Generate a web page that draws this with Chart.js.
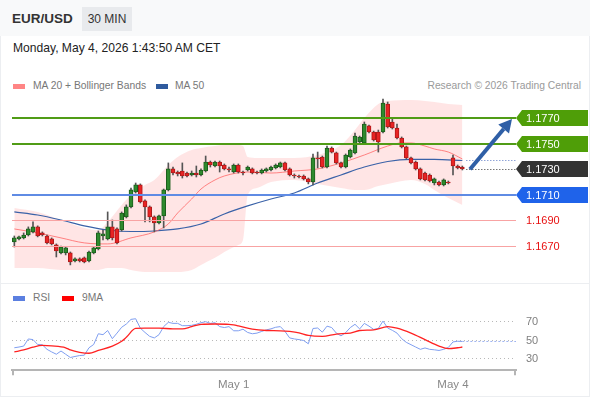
<!DOCTYPE html>
<html>
<head>
<meta charset="utf-8">
<script src="https://cdn.jsdelivr.net/npm/chart.js@4.4.1/dist/chart.umd.min.js"></script>
<style>
  body { margin: 0; background: #fff; font-family: "Liberation Sans", Arial, sans-serif; }
  #wrap { position: relative; width: 590px; height: 400px; overflow: hidden; }
  .abs { position: absolute; white-space: nowrap; }
  .leg { font-size: 10.3px; color: #777; }
</style>
</head>
<body>
<div id="wrap">
  <div class="abs" style="left:0;top:0;width:590px;height:36px;background:#f8f9fa"></div>
  <div class="abs" style="left:12px;top:11px;font-weight:bold;font-size:13.5px;color:#333">EUR/USD</div>
  <div class="abs" style="left:82px;top:7px;width:50px;height:24px;line-height:24px;background:#e8eaed;font-size:12px;color:#333;text-align:center">30 MIN</div>
  <div class="abs" style="left:13px;top:41px;font-size:12.1px;color:#222">Monday, May 4, 2026 1:43:50 AM CET</div>

  <div class="abs" style="left:13px;top:84px;width:12px;height:5px;background:#ff8585"></div>
  <div class="abs leg" style="left:33px;top:80px">MA 20 + Bollinger Bands</div>
  <div class="abs" style="left:156px;top:84px;width:12px;height:5px;background:#2f5b9e"></div>
  <div class="abs leg" style="left:175px;top:80px">MA 50</div>
  <div class="abs leg" style="right:9px;top:80px;color:#9a9a9a">Research © 2026 Trading Central</div>

  <canvas id="main" class="abs" style="left:0;top:90px" width="590" height="190"></canvas>

  <div class="abs" style="left:0;top:283px;width:590px;height:1px;background:#eceef1"></div>
  <div class="abs" style="left:13px;top:296px;width:12px;height:5px;background:#5b7fe0"></div>
  <div class="abs leg" style="left:33px;top:292px">RSI</div>
  <div class="abs" style="left:62px;top:296px;width:12px;height:5px;background:#f00"></div>
  <div class="abs leg" style="left:82px;top:292px">9MA</div>

  <canvas id="rsi" class="abs" style="left:0;top:290px" width="590" height="105"></canvas>

  <div class="abs" style="left:0;top:396px;width:590px;height:1px;background:#eceef1"></div>
  <div class="abs" style="left:0;top:36px;width:1px;height:361px;background:#eceef1"></div>
  <div class="abs" style="left:589px;top:36px;width:1px;height:361px;background:#eceef1"></div>
</div>

<script>
// 30 min candles, CET
var times = [
  'Apr 30 00:30','Apr 30 01:00','Apr 30 01:30','Apr 30 02:00','Apr 30 02:30','Apr 30 03:00','Apr 30 03:30','Apr 30 04:00',
  'Apr 30 04:30','Apr 30 05:00','Apr 30 05:30','Apr 30 06:00','Apr 30 06:30','Apr 30 07:00','Apr 30 07:30','Apr 30 08:00',
  'Apr 30 08:30','Apr 30 09:00','Apr 30 09:30','Apr 30 10:00','Apr 30 10:30','Apr 30 11:00','Apr 30 11:30','Apr 30 12:00',
  'Apr 30 12:30','Apr 30 13:00','Apr 30 13:30','Apr 30 14:00','Apr 30 14:30','Apr 30 15:00','Apr 30 15:30','Apr 30 16:00',
  'Apr 30 16:30','Apr 30 17:00','Apr 30 17:30','Apr 30 18:00','Apr 30 18:30','Apr 30 19:00','Apr 30 19:30','Apr 30 20:00',
  'Apr 30 20:30','Apr 30 21:00','Apr 30 21:30','Apr 30 22:00','Apr 30 22:30','Apr 30 23:00','Apr 30 23:30',
  'May 1 00:00','May 1 00:30','May 1 01:00','May 1 01:30','May 1 02:00','May 1 02:30','May 1 03:00','May 1 03:30',
  'May 1 04:00','May 1 04:30','May 1 05:00','May 1 05:30','May 1 06:00','May 1 06:30','May 1 07:00','May 1 07:30',
  'May 1 08:00','May 1 08:30','May 1 09:00','May 1 09:30','May 1 10:00','May 1 10:30','May 1 11:00','May 1 11:30',
  'May 1 12:00','May 1 12:30','May 1 13:00','May 1 13:30','May 1 14:00','May 1 14:30','May 1 15:00','May 1 15:30',
  'May 1 16:00','May 1 16:30','May 1 17:00','May 1 17:30','May 1 18:00','May 1 18:30','May 1 19:00','May 1 19:30',
  'May 1 20:00','May 1 20:30','May 1 21:00','May 1 21:30','May 1 22:00',
  'May 3 23:00','May 3 23:30',
  'May 4 00:00','May 4 00:30','May 4 01:00',
  'May 4 01:30','May 4 02:00','May 4 02:30','May 4 03:00','May 4 03:30','May 4 04:00','May 4 04:30',
  'May 4 05:00','May 4 05:30','May 4 06:00','May 4 06:30'
];

var open = [
  1.16732,1.16755,1.16763,1.16786,1.16810,1.16849,1.16802,1.16778,1.16755,1.16708,
  1.16646,1.16646,1.16646,1.16583,1.16599,1.16607,1.16583,1.16646,1.16677,1.16778,
  1.16755,1.16849,1.16833,1.16825,1.16927,1.17005,1.17122,1.17177,1.17052,1.17005,
  1.16927,1.16880,1.16935,1.17138,1.17302,1.17278,1.17286,1.17270,1.17255,1.17270,
  1.17255,1.17286,1.17356,1.17325,1.17356,1.17333,1.17302,1.17278,1.17333,1.17278,
  1.17294,1.17302,1.17278,1.17270,1.17286,1.17294,1.17310,1.17317,1.17349,1.17302,
  1.17255,1.17247,1.17247,1.17224,1.17200,1.17388,1.17395,1.17317,1.17466,1.17427,
  1.17349,1.17317,1.17395,1.17427,1.17513,1.17505,1.17638,1.17591,1.17591,1.17591,
  1.17809,1.17669,1.17622,1.17544,1.17474,1.17388,1.17356,1.17302,1.17270,1.17255,
  1.17192,1.17200,1.17177,1.17200,1.17388,1.17325,1.17317
];
var high = [
  1.16778,1.16778,1.16802,1.16849,1.16888,1.16857,1.16810,1.16786,1.16763,1.16716,
  1.16700,1.16692,1.16653,1.16607,1.16607,1.16614,1.16661,1.16692,1.16817,1.16825,
  1.16966,1.16903,1.16841,1.16966,1.17021,1.17153,1.17192,1.17185,1.17060,1.17013,
  1.16935,1.16942,1.17145,1.17349,1.17317,1.17286,1.17349,1.17278,1.17286,1.17325,
  1.17302,1.17403,1.17364,1.17364,1.17364,1.17341,1.17317,1.17341,1.17341,1.17286,
  1.17325,1.17310,1.17286,1.17302,1.17310,1.17325,1.17341,1.17356,1.17356,1.17310,
  1.17263,1.17255,1.17255,1.17231,1.17419,1.17434,1.17403,1.17481,1.17474,1.17434,
  1.17356,1.17419,1.17458,1.17583,1.17559,1.17669,1.17645,1.17598,1.17606,1.17848,
  1.17825,1.17700,1.17653,1.17552,1.17481,1.17395,1.17364,1.17310,1.17278,1.17263,
  1.17231,1.17208,1.17224,1.17208,1.17411,1.17333,1.17325
];
var low = [
  1.16692,1.16747,1.16755,1.16778,1.16802,1.16771,1.16778,1.16716,1.16708,1.16614,
  1.16638,1.16630,1.16552,1.16575,1.16575,1.16568,1.16575,1.16638,1.16669,1.16747,
  1.16747,1.16747,1.16716,1.16817,1.16919,1.16997,1.17114,1.17036,1.16888,1.16888,
  1.16810,1.16872,1.16841,1.17130,1.17255,1.17247,1.17231,1.17239,1.17247,1.17239,
  1.17247,1.17278,1.17317,1.17317,1.17278,1.17294,1.17278,1.17270,1.17270,1.17255,
  1.17286,1.17263,1.17263,1.17263,1.17278,1.17286,1.17302,1.17310,1.17286,1.17247,
  1.17231,1.17231,1.17216,1.17185,1.17177,1.17310,1.17310,1.17310,1.17427,1.17341,
  1.17310,1.17310,1.17388,1.17419,1.17505,1.17497,1.17583,1.17520,1.17434,1.17583,
  1.17622,1.17614,1.17536,1.17466,1.17380,1.17341,1.17294,1.17216,1.17208,1.17200,
  1.17177,1.17169,1.17169,1.17185,1.17255,1.17302,1.17294
];
var close = [
  1.16763,1.16771,1.16786,1.16833,1.16849,1.16778,1.16786,1.16724,1.16716,1.16661,
  1.16692,1.16685,1.16575,1.16599,1.16583,1.16575,1.16653,1.16685,1.16802,1.16794,
  1.16849,1.16763,1.16724,1.16958,1.17005,1.17138,1.17177,1.17044,1.17005,1.16927,
  1.16880,1.16935,1.17138,1.17302,1.17270,1.17263,1.17247,1.17247,1.17270,1.17255,
  1.17294,1.17356,1.17333,1.17356,1.17325,1.17302,1.17294,1.17333,1.17278,1.17270,
  1.17317,1.17270,1.17270,1.17294,1.17302,1.17317,1.17333,1.17349,1.17294,1.17255,
  1.17247,1.17239,1.17224,1.17200,1.17388,1.17380,1.17317,1.17466,1.17434,1.17349,
  1.17317,1.17411,1.17450,1.17559,1.17552,1.17653,1.17591,1.17528,1.17513,1.17817,
  1.17630,1.17622,1.17544,1.17474,1.17388,1.17349,1.17302,1.17224,1.17216,1.17208,
  1.17224,1.17177,1.17216,1.17192,1.17325,1.17310,1.17302
];

// indicator readings (candle index -> value)
var ma20Idx = [0,5,10,15,20,25,30,33,35,38,40,43,45,50,55,60,65,70,75,80,83,85,88,90,93,96];
var ma20 = [1.16833,1.16802,1.16763,1.16724,1.16716,1.16763,1.16810,1.16872,1.16958,1.17067,1.17145,1.17216,1.17247,
            1.17278,1.17270,1.17286,1.17302,1.17349,1.17411,1.17481,1.17505,1.17505,1.17481,1.17458,1.17434,1.17380];
var ma50Idx = [0,5,10,15,20,25,30,35,40,45,50,55,60,65,70,75,80,85,90,96];
var ma50 = [1.16966,1.16942,1.16903,1.16857,1.16825,1.16813,1.16817,1.16833,1.16872,1.16950,
            1.17013,1.17067,1.17114,1.17192,1.17255,1.17317,1.17360,1.17376,1.17376,1.17368];
var bbIdx = [0,5,10,15,18,20,23,25,28,30,33,35,38,40,43,45,48,49,50,52,55,60,65,70,73,75,78,80,85,88,90,93,96];
var bbUpper = [1.16997,1.16966,1.16903,1.16841,1.16825,1.16888,1.17021,1.17099,1.17177,1.17216,1.17333,1.17395,1.17450,
               1.17466,1.17481,1.17489,1.17489,1.17481,1.17395,1.17388,1.17388,1.17388,1.17411,1.17489,1.17606,1.17700,
               1.17809,1.17833,1.17841,1.17833,1.17825,1.17809,1.17802];
var bbLower = [1.16528,1.16528,1.16513,1.16513,1.16513,1.16528,1.16528,1.16513,1.16497,1.16497,1.16497,1.16497,1.16513,
               1.16552,1.16607,1.16653,1.16708,1.16747,1.17099,1.17153,1.17200,1.17216,1.17185,1.17153,1.17138,1.17138,
               1.17169,1.17185,1.17216,1.17185,1.17138,1.17075,1.17021];

var resistances = [1.1770, 1.1750];
var lastPrice = 1.1730;
var supports = [1.1710];
var minorLevels = [1.1690, 1.1670];

var rsi = [
  41.2,42,43,50.7,50,44.7,44.4,39.5,36.7,34.2,
  37.7,34.2,30.7,31.8,32.8,33.2,41.2,44.7,56.3,55.3,
  59.8,51,57,63.3,66.8,71.8,72.5,62.3,57.7,53.5,
  51.8,55.3,64,68.6,67.5,67.5,65,65,65.4,66.5,
  68.2,69.3,67.5,68.2,64,63,64,59.5,59.5,61.2,
  57.7,56.3,57,58.8,60.5,61.6,63.3,64,58.8,51.8,
  50.7,50,49,45.5,62,62.5,58,64.5,63,57,
  54,57.5,63,66.5,61.5,67.5,64.5,61,62,70,
  62.5,60,57,51,47,44.5,42,39.5,41,39.5,
  39,38.3,39.5,41.5,47.5,48.2,48
];
var rsiMaIdx = [0,2,4,6,8,11,12,14,16,18,21,23,24,26,28,31,34,36,38,40,43,46,47,48,51,54,57,59,61,63,66,69,72,74,77,80,82,85,88,91,93,95,96];
var rsiMa = [36.7,38.8,41.9,43.7,43.2,41.2,38.8,36.3,35.3,38.4,43,48.2,52.5,62,62.3,62.3,61.6,61.6,64,66.5,66.8,66.5,65.8,
             64.7,61.2,59.8,59.5,58.8,57.3,54.5,53.5,56,57,59.8,60.5,64,62.3,57,50,43,40.2,41.2,42];
var rsiLevels = [70, 50, 30];

Chart.defaults.font.family = '"Liberation Sans", Arial, sans-serif';

function pts(idx, vals) {
  return idx.map(function (i, k) { return { x: times[i], y: vals[k] }; });
}

var upCol = '#2e8a2e', upBorder = '#1c5f1c', downCol = '#e82424', downBorder = '#b01a1a';
var isUp = close.map(function (c, i) { return c >= open[i]; });

var levelsPlugin = {
  id: 'levels',
  afterDatasetsDraw: function (chart) {
    var ctx = chart.ctx, a = chart.chartArea, x = chart.scales.x, y = chart.scales.y;
    function hline(v, color, w, dash, x0) {
      var py = Math.round(y.getPixelForValue(v)) + (w % 2 ? 0.5 : 0);
      ctx.beginPath();
      ctx.setLineDash(dash);
      ctx.strokeStyle = color;
      ctx.lineWidth = w;
      ctx.moveTo(x0, py);
      ctx.lineTo(a.right, py);
      ctx.stroke();
      ctx.setLineDash([]);
    }
    function tag(v, fill) {
      var py = Math.round(y.getPixelForValue(v));
      ctx.beginPath();
      ctx.moveTo(a.right, py);
      ctx.lineTo(a.right + 6, py - 8);
      ctx.lineTo(a.right + 72, py - 8);
      ctx.lineTo(a.right + 72, py + 8);
      ctx.lineTo(a.right + 6, py + 8);
      ctx.closePath();
      ctx.fillStyle = fill;
      ctx.fill();
      ctx.fillStyle = '#fff';
      ctx.font = '11px "Liberation Sans", Arial';
      ctx.textBaseline = 'middle';
      ctx.fillText(v.toFixed(4), a.right + 10, py + 1);
    }
    ctx.save();
    minorLevels.forEach(function (v) { hline(v, '#f8a3a3', 1, [], a.left); });
    supports.forEach(function (v) { hline(v, '#5f8be4', 2, [], a.left); });
    resistances.forEach(function (v) { hline(v, '#509c16', 2, [], a.left); });
    var xEnd = x.getPixelForValue(close.length - 1) + 4;
    hline(ma50[ma50.length - 1], '#5a78c4', 1, [1, 2], xEnd);
    hline(lastPrice, '#333', 1, [1, 2], xEnd);

    // arrow towards first resistance
    var x0 = x.getPixelForValue(close.length) + 3, y0 = y.getPixelForValue(lastPrice);
    var x1 = a.right - 4, y1 = y.getPixelForValue(resistances[0]) + 1;
    var ang = Math.atan2(y1 - y0, x1 - x0), hl = 13, hw = 7;
    var bx = x1 - hl * Math.cos(ang), by = y1 - hl * Math.sin(ang);
    ctx.strokeStyle = '#2f5fa6';
    ctx.fillStyle = '#2f5fa6';
    ctx.lineWidth = 4;
    ctx.beginPath();
    ctx.moveTo(x0, y0);
    ctx.lineTo(bx, by);
    ctx.stroke();
    ctx.beginPath();
    ctx.moveTo(x1, y1);
    ctx.lineTo(bx + hw * Math.sin(ang), by - hw * Math.cos(ang));
    ctx.lineTo(bx - hw * Math.sin(ang), by + hw * Math.cos(ang));
    ctx.closePath();
    ctx.fill();

    resistances.forEach(function (v) { tag(v, '#4f9e08'); });
    tag(lastPrice, '#333333');
    supports.forEach(function (v) { tag(v, '#1f63ea'); });
    ctx.fillStyle = '#e81010';
    ctx.font = '11px "Liberation Sans", Arial';
    ctx.textBaseline = 'middle';
    minorLevels.forEach(function (v) {
      ctx.fillText(v.toFixed(4), a.right + 10, Math.round(y.getPixelForValue(v)) + 1);
    });
    ctx.restore();
  }
};

new Chart(document.getElementById('main'), {
  type: 'bar',
  data: {
    labels: times,
    datasets: [
      {
        data: open.map(function (o, i) { return [o, close[i]]; }),
        backgroundColor: isUp.map(function (u) { return u ? upCol : downCol; }),
        borderColor: isUp.map(function (u) { return u ? upBorder : downBorder; }),
        borderWidth: 1, borderSkipped: false, barThickness: 4, grouped: false, order: 0
      },
      {
        data: low.map(function (l, i) { return [l, high[i]]; }),
        backgroundColor: '#555', barThickness: 1, grouped: false, order: 1
      },
      {
        type: 'line', data: pts(ma20Idx, ma20), borderColor: 'rgba(255,95,95,0.75)', borderWidth: 1,
        pointRadius: 0, cubicInterpolationMode: 'monotone', order: 2
      },
      {
        type: 'line', data: pts(ma50Idx, ma50), borderColor: '#3a62a8', borderWidth: 1.2,
        pointRadius: 0, cubicInterpolationMode: 'monotone', order: 2
      },
      {
        type: 'line', data: pts(bbIdx, bbUpper), borderWidth: 0, borderColor: 'transparent',
        pointRadius: 0, cubicInterpolationMode: 'monotone', fill: false, order: 5
      },
      {
        type: 'line', data: pts(bbIdx, bbLower), borderWidth: 0, borderColor: 'transparent',
        pointRadius: 0, cubicInterpolationMode: 'monotone', fill: '-1',
        backgroundColor: 'rgba(255,150,150,0.25)', order: 5
      }
    ]
  },
  options: {
    responsive: false,
    animation: false,
    layout: { padding: { left: 12, right: 74, top: 0, bottom: 0 } },
    plugins: { legend: { display: false }, tooltip: { enabled: false } },
    scales: {
      x: { display: false, offset: true },
      y: { display: false, min: 1.16434, max: 1.17919 }
    }
  },
  plugins: [levelsPlugin]
});

var rsiPlugin = {
  id: 'rsiLevels',
  beforeDatasetsDraw: function (chart) {
    var ctx = chart.ctx, a = chart.chartArea, y = chart.scales.y;
    ctx.save();
    ctx.setLineDash([1, 3]);
    ctx.strokeStyle = '#b8b8b8';
    ctx.lineWidth = 1;
    ctx.fillStyle = '#808080';
    ctx.font = '11px "Liberation Sans", Arial';
    ctx.textBaseline = 'middle';
    rsiLevels.forEach(function (v) {
      var py = Math.round(y.getPixelForValue(v)) + 0.5;
      ctx.beginPath();
      ctx.moveTo(a.left, py);
      ctx.lineTo(a.right, py);
      ctx.stroke();
      ctx.fillText(String(v), a.right + 10, py);
    });
    ctx.restore();
  },
  afterDatasetsDraw: function (chart) {
    var ctx = chart.ctx, a = chart.chartArea, x = chart.scales.x, y = chart.scales.y;
    ctx.save();
    var last = rsi.length - 1;
    var py = y.getPixelForValue(rsi[last]);
    ctx.setLineDash([2, 2]);
    ctx.strokeStyle = '#9db3f2';
    ctx.lineWidth = 1;
    ctx.beginPath();
    ctx.moveTo(x.getPixelForValue(last), py);
    ctx.lineTo(a.right, py);
    ctx.stroke();
    ctx.setLineDash([]);
    ctx.strokeStyle = '#b5b5b5';
    ctx.lineWidth = 2;
    [a.left + 1, a.right - 1].forEach(function (px) {
      ctx.beginPath();
      ctx.moveTo(px, a.bottom);
      ctx.lineTo(px, a.bottom + 5);
      ctx.stroke();
    });
    ctx.restore();
  }
};

new Chart(document.getElementById('rsi'), {
  type: 'line',
  data: {
    labels: times,
    datasets: [
      { data: pts(rsiMaIdx, rsiMa), borderColor: '#f22', borderWidth: 1.3, pointRadius: 0,
        cubicInterpolationMode: 'monotone', order: 0 },
      { data: rsi, borderColor: '#7f9ef0', borderWidth: 1, pointRadius: 0, order: 1 }
    ]
  },
  options: {
    responsive: false,
    animation: false,
    layout: { padding: { left: 12, right: 74, top: 10, bottom: 0 } },
    plugins: { legend: { display: false }, tooltip: { enabled: false } },
    scales: {
      x: {
        offset: true,
        grid: { display: false, drawTicks: true, tickLength: 5 },
        border: { display: true, color: '#b5b5b5', width: 2 },
        ticks: {
          autoSkip: false, maxRotation: 0, padding: 3, color: '#888', font: { size: 11.5 },
          callback: function (value) {
            var lab = this.getLabelForValue(value);
            return lab.slice(-6) === ' 00:00' ? lab.slice(0, -6) : '';
          }
        }
      },
      y: { display: false, min: 17, max: 92.7 }
    }
  },
  plugins: [rsiPlugin]
});
</script>
</body>
</html>
